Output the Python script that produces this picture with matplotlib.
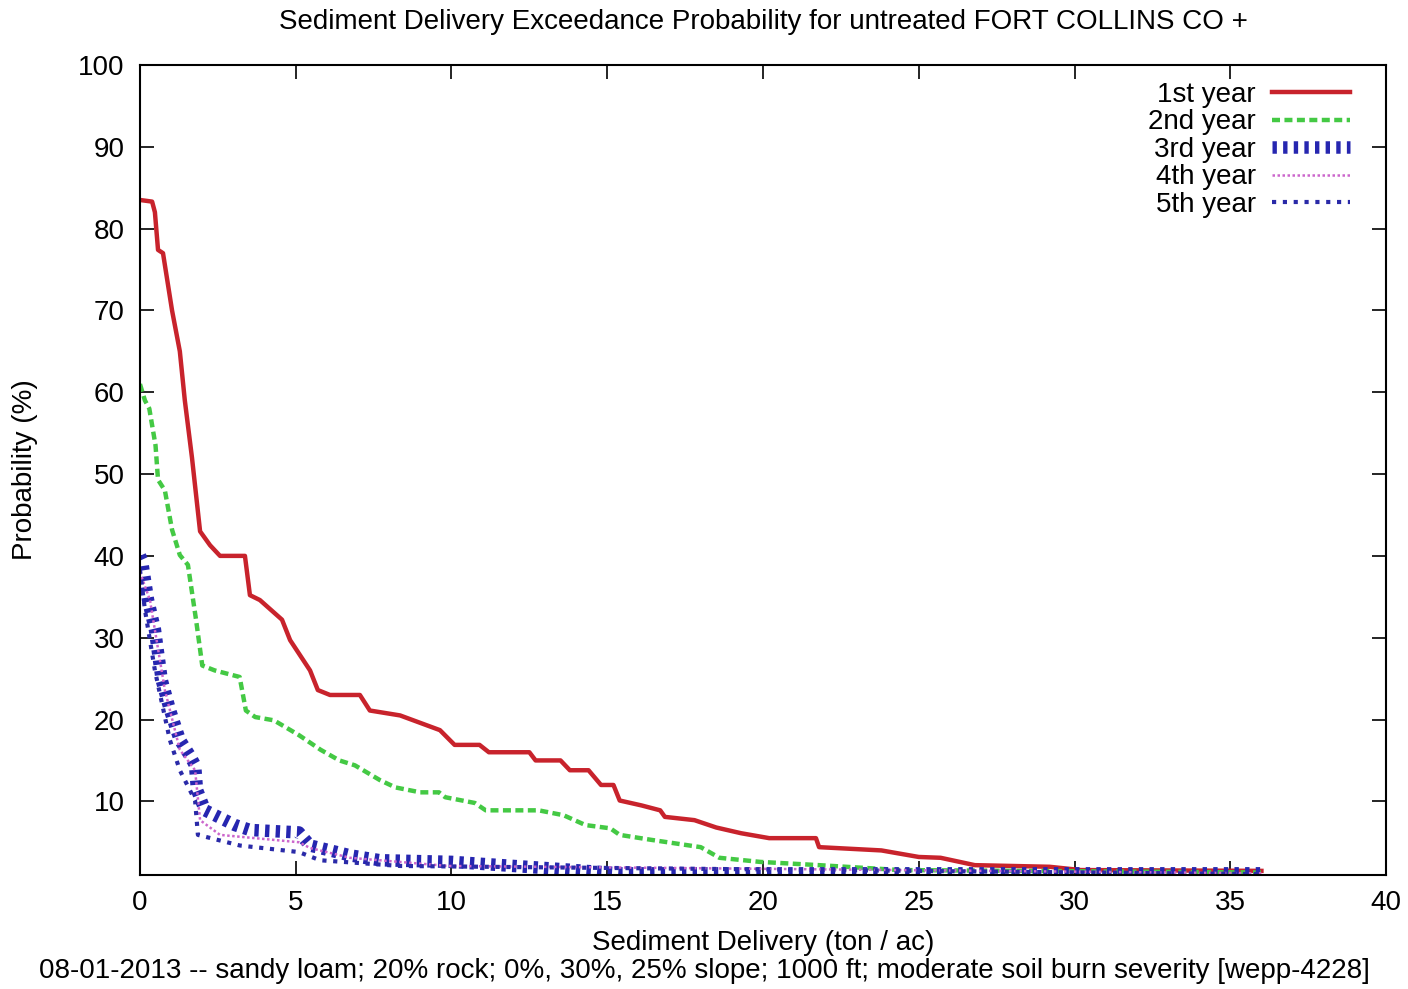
import matplotlib
matplotlib.use("Agg")
import matplotlib.pyplot as plt

plt.rcParams['font.family'] = ['Liberation Sans', 'DejaVu Sans']

###############################################################
###         dane

x_1st = [0, 0.39, 0.48, 0.58, 0.74, 1.03, 1.28, 1.44, 1.67, 1.93, 2.25, 2.57, 3.37, 3.53, 3.85, 4.56,
         4.82, 5.46, 5.71, 6.1, 7.06, 7.38, 8.35, 9.63, 10.1, 10.9, 11.2, 12.5, 12.7, 13.5, 13.8, 14.4,
         14.8, 15.2, 15.4, 16.1, 16.7, 16.85, 17.8, 18.5, 19.3, 20.2, 21.7, 21.8, 23.8, 25.0, 25.7,
         26.8, 29.2, 30.2, 36.0]
y_1st = [83.5, 83.3, 82, 77.4, 77, 70, 65, 59, 52, 43, 41.3, 40, 40, 35.2, 34.6, 32.2,
         29.7, 26, 23.6, 23, 23, 21.1, 20.5, 18.7, 16.9, 16.9, 16, 16, 15, 15, 13.8, 13.8,
         12, 12, 10.1, 9.5, 8.9, 8.1, 7.7, 6.8, 6.1, 5.5, 5.5, 4.4, 4.0, 3.2, 3.1,
         2.2, 2.0, 1.6, 1.5]

x_2nd = [0, 0.16, 0.3, 0.5, 0.58, 0.8, 1.03, 1.28, 1.54, 1.8, 2.0, 2.4, 3.2, 3.4, 3.7, 4.3, 5.1,
         5.8, 6.4, 6.9, 7.7, 8.2, 9.0, 9.6, 9.8, 10.75, 11.1, 12.8, 13.6, 14.3, 15.1, 15.4, 16.4,
         18.0, 18.6, 19.9, 21.8, 24.4, 36.0]
y_2nd = [61, 59, 58, 53.5, 49.3, 48, 43.2, 40.1, 38.9, 32.2, 26.6, 26, 25.2, 21.1, 20.3, 19.9, 18.1,
         16.3, 15, 14.4, 12.6, 11.7, 11.1, 11.1, 10.5, 9.8, 8.9, 8.9, 8.3, 7.1, 6.7, 5.9, 5.3,
         4.4, 3.1, 2.6, 2.2, 1.6, 1.3]

x_3rd = [0, 0.06, 0.26, 0.48, 0.7, 0.96, 1.28, 1.6, 1.77, 1.83, 2.09, 3.05, 3.53, 5.1, 5.46, 6.74,
         7.7, 10.0, 13.2, 15.4, 36.0]
y_3rd = [40, 39.5, 34.6, 31, 24.8, 21.2, 17.5, 15.6, 14.4, 11.4, 8.9, 7.1, 6.5, 6.2, 4.6, 3.4,
         2.8, 2.6, 1.8, 1.2, 1.2]

x_4th = [0, 0.32, 0.8, 1.28, 1.77, 1.93, 2.57, 5.1, 5.46, 6.74, 9.9, 36.0]
y_4th = [38, 34.6, 23.6, 16.3, 13.8, 7.7, 5.9, 5.0, 4.3, 3.1, 2.1, 1.2]

x_5th = [0, 0.16, 0.48, 0.96, 1.28, 1.77, 1.86, 3.21, 5.1, 5.78, 8.35, 36.0]
y_5th = [38.3, 33.4, 26, 17.5, 13.8, 10.1, 5.9, 4.6, 3.8, 2.8, 2.1, 1.1]

labels = ["1st year", "2nd year", "3rd year", "4th year", "5th year"]

###############################################################

fig = plt.figure(figsize=(14.08, 9.89), dpi=100)
ax = fig.add_axes([0.0994, 0.1153, 0.885, 0.8190])

ax.plot(x_1st, y_1st, color="#c8232c", lw=3.2, label=labels[0])
ax.plot(x_2nd, y_2nd, color="#44c944", lw=3.2, dashes=(1.8, 1.0), label=labels[1])
ax.plot(x_3rd, y_3rd, color="#2626b0", lw=9, dashes=(0.35, 0.5), dash_capstyle="butt", label=labels[2])
ax.plot(x_4th, y_4th, color="#cc66cc", lw=1.8, dashes=(1, 1), label=labels[3])
ax.plot(x_5th, y_5th, color="#2a2aa8", lw=3, dashes=(1, 1.6), label=labels[4])

ax.set_xlim(0, 40)
ax.set_ylim(1, 100)
ax.set_xticks(range(0, 41, 5))
ax.set_yticks(range(10, 101, 10))

ax.tick_params(direction="in", length=10, width=1.2, top=True, right=True, labelsize=20, pad=11)
for s in ax.spines.values():
    s.set_linewidth(1.5)

# tytul i opisy osi
fig.text(0.542, 0.9778, "Sediment Delivery Exceedance Probability for untreated FORT COLLINS CO +",
         ha="center", va="center", fontsize=20)
ax.set_xlabel("Sediment Delivery (ton / ac)", fontsize=20, va="center")
ax.xaxis.set_label_coords(0.5, -0.084)
ax.set_ylabel("Probability (%)", fontsize=20, va="center")
ax.yaxis.set_label_coords(-0.0925, 0.5)

fig.text(0.5, 0.0182, "08-01-2013 -- sandy loam; 20% rock; 0%, 30%, 25% slope; 1000 ft; moderate soil burn severity [wepp-4228]",
         ha="center", va="center", fontsize=20)

leg = ax.legend(loc="upper right", bbox_to_anchor=(0.9823, 0.996), frameon=False, markerfirst=False,
                fontsize=20, handlelength=2.8, handletextpad=0.6, labelspacing=0.05, borderpad=0)
for t in leg.get_texts():
    t.set_ha("right")

fig.savefig("out.png", dpi=100)
